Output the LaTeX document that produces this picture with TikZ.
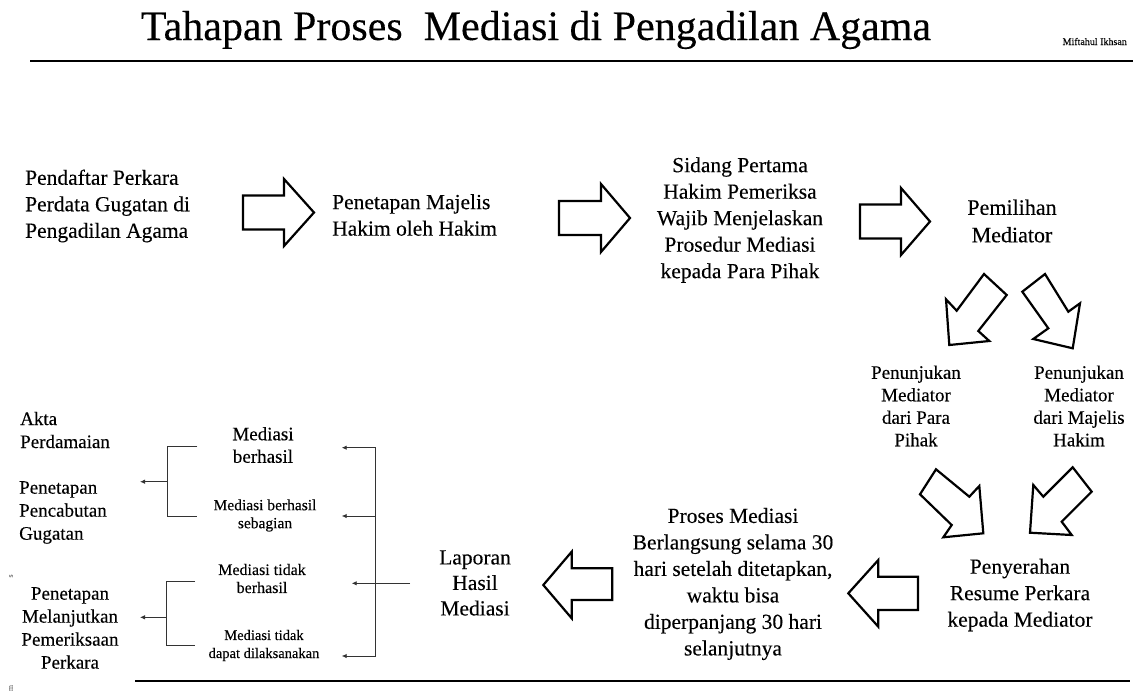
\documentclass[tikz,border=0pt]{standalone}
\usepackage{fontspec}
\setmainfont{Liberation Serif}[UprightFeatures={FakeBold=0.2}]
\usetikzlibrary{arrows.meta}
\tikzset{
  blockarrow/.style={draw=black, line width=2.2pt, line join=miter, fill=white},
  bigtext/.style={inner sep=0pt, align=center, font=\fontsize{21.5}{26.5}\selectfont},
  midtext/.style={inner sep=0pt, align=center, font=\fontsize{19}{22.5}\selectfont},
  smalltext/.style={inner sep=0pt, align=center, font=\fontsize{15.5}{18}\selectfont},
  tinytext/.style={inner sep=0pt, align=center, font=\fontsize{14.5}{18}\selectfont},
  bracket/.style={draw=black!80, line width=0.9pt},
  thinarrow/.style={bracket, -{Latex[length=5pt,width=4.5pt]}},
  rule/.style={draw=black, line cap=butt}
}
\begin{document}
\begin{tikzpicture}[x=1pt,y=-1pt]
\useasboundingbox (0,0) rectangle (1142,694);
\fill[white] (0,0) rectangle (1142,694);

% title
\node[anchor=base, inner sep=0pt, font=\fontsize{42}{42}\selectfont] (title) at (536,40) {Tahapan Proses\ \ Mediasi di Pengadilan Agama};
\node[anchor=base east, inner sep=0pt, font=\fontsize{10}{10}\selectfont] (author) at (1127,45) {Miftahul Ikhsan};
\draw[rule, line width=2.5pt] (30,61) -- (1133,61);
\draw[rule, line width=1.5pt] (135,681) -- (1130,681);

% top row texts
\node[bigtext, align=left, anchor=west] (t1) at (25,206) {Pendaftar Perkara\\Perdata Gugatan di\\Pengadilan Agama};
\node[bigtext, align=left, anchor=west] (t2) at (332,215) {Penetapan Majelis\\Hakim oleh Hakim};
\node[bigtext] (t3) at (740,220) {Sidang Pertama\\Hakim Pemeriksa\\Wajib Menjelaskan\\Prosedur Mediasi\\kepada Para Pihak};
\node[bigtext, font=\fontsize{22}{27.5}\selectfont] (t4) at (1012,221) {Pemilihan\\Mediator};

% top row block arrows
\draw[blockarrow] (243,195.5) -- (284,195.5) -- (284,179) -- (314,212.5) -- (284,246) -- (284,229.5) -- (243,229.5) -- cycle;
\draw[blockarrow] (559,201) -- (601,201) -- (601,184) -- (630,218) -- (601,252) -- (601,235) -- (559,235) -- cycle;
\draw[blockarrow] (860,204.5) -- (901,204.5) -- (901,188) -- (930,221.5) -- (901,255) -- (901,238.5) -- (860,238.5) -- cycle;

% diagonal arrows from Pemilihan Mediator
\draw[blockarrow] (984,274) -- (956.7,310.7) -- (946,299.3) -- (949.3,345) -- (989.3,341) -- (978.3,331) -- (1006.7,295) -- cycle;
\draw[blockarrow] (1045,274) -- (1068.3,311.7) -- (1080,303.3) -- (1072.7,348.3) -- (1033.3,339) -- (1048.3,328.3) -- (1022.3,291.7) -- cycle;

% Penunjukan texts
\node[midtext, font=\fontsize{19}{22.5}\selectfont] (t5) at (916,406) {Penunjukan\\Mediator\\dari Para\\Pihak};
\node[midtext, font=\fontsize{19}{22.5}\selectfont] (t6) at (1079,406) {Penunjukan\\Mediator\\dari Majelis\\Hakim};

% converging arrows
\draw[blockarrow] (936,469.3) -- (969.3,496.7) -- (979.3,486) -- (983.3,533.3) -- (943.3,537.3) -- (951.7,525) -- (920,494.3) -- cycle;
\draw[blockarrow] (1072.7,467.3) -- (1091.7,491.7) -- (1061.7,521.7) -- (1071.7,535) -- (1030,532.7) -- (1033.3,485) -- (1043.3,496.7) -- cycle;

% bottom row
\node[bigtext] (t7) at (1020,595) {Penyerahan\\Resume Perkara\\kepada Mediator};
\node[bigtext] (t8) at (733,584) {Proses Mediasi\\Berlangsung selama 30\\hari setelah ditetapkan,\\waktu bisa\\diperpanjang 30 hari\\selanjutnya};
\node[bigtext, font=\fontsize{21.5}{25.5}\selectfont] (t9) at (475,583) {Laporan\\Hasil\\Mediasi};

\draw[blockarrow] (918,576.7) -- (878.3,576.7) -- (878.3,560) -- (848.3,593.3) -- (878.3,626.7) -- (878.3,610) -- (918,610) -- cycle;
\draw[blockarrow] (612.3,568.3) -- (571.7,568.3) -- (571.7,551.7) -- (543.3,585) -- (571.7,618.3) -- (571.7,600) -- (612.3,600) -- cycle;

% outcome texts
\node[midtext] (m1) at (263,445) {Mediasi\\berhasil};
\node[smalltext] (m2) at (265,515.5) {Mediasi berhasil\\sebagian};
\node[smalltext, font=\fontsize{16}{18}\selectfont] (m3) at (262,578.5) {Mediasi tidak\\berhasil};
\node[tinytext] (m4) at (264,645.5) {Mediasi tidak\\dapat dilaksanakan};

% final texts
\node[midtext, align=left, anchor=west, font=\fontsize{19}{23}\selectfont] (l1) at (20,430) {Akta\\Perdamaian};
\node[midtext, align=left, anchor=west, font=\fontsize{19}{23}\selectfont] (l2) at (19,512.5) {Penetapan\\Pencabutan\\Gugatan};
\node[midtext, font=\fontsize{19}{23}\selectfont] (l3) at (70,628) {Penetapan\\Melanjutkan\\Pemeriksaan\\Perkara};

% right bracket from Laporan
\coordinate (rbTop) at (375.7,447.7);
\coordinate (rbMid) at (375.7,516);
\coordinate (rbBot) at (375.7,656);
\coordinate (lapIn) at (410,583.3);
\coordinate (m1in) at (341.7,447.7);
\coordinate (m2in) at (341.7,516);
\coordinate (m3in) at (351.7,583.3);
\coordinate (m4in) at (341.7,656);
\draw[bracket] (rbTop) -- (rbBot);
\draw[thinarrow] (rbTop) -- (m1in);
\draw[thinarrow] (rbMid) -- (m2in);
\draw[thinarrow] (rbBot) -- (m4in);
\draw[thinarrow] (lapIn) -- (m3in);

% left brackets
\coordinate (ub1) at (197.3,446.7);
\coordinate (ub2) at (197.3,516);
\coordinate (ubA) at (167.7,446.7);
\coordinate (ubB) at (167.7,516);
\coordinate (ubC) at (167.7,481.7);
\coordinate (ubOut) at (140,481.7);
\draw[bracket] (ub1) -- (ubA) -- (ubB) -- (ub2);
\draw[thinarrow] (ubC) -- (ubOut);

\coordinate (lb1) at (195,581);
\coordinate (lb2) at (195,645.7);
\coordinate (lbA) at (166,581);
\coordinate (lbB) at (166,645.7);
\coordinate (lbC) at (166,617.3);
\coordinate (lbOut) at (140,617.3);
\draw[bracket] (lb1) -- (lbA) -- (lbB) -- (lb2);
\draw[thinarrow] (lbC) -- (lbOut);

% stray marks at left edge
\node[rotate=90, text=black!45, inner sep=0pt, font=\fontsize{8}{8}\selectfont] (s1) at (11,576) {s};
\node[rotate=90, text=black!45, inner sep=0pt, font=\fontsize{8}{8}\selectfont] (s2) at (11,688) {m};
\end{tikzpicture}
\end{document}
